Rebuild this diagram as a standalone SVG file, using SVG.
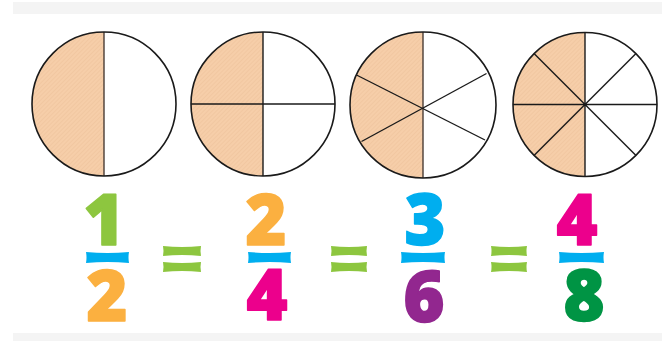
<svg xmlns="http://www.w3.org/2000/svg" width="662" height="341" viewBox="0 0 662 341">
  <style>
    .band { fill: #F4F4F4; }
    .shade { fill: url(#hatch); stroke: none; }
    .rim { fill: none; stroke: #1a1a1a; stroke-width: 1.6; }
    .spoke { stroke: #1a1a1a; stroke-width: 1.4; fill: none; }
    .mid { stroke: #4a3d35; stroke-width: 1.4; fill: none; }
    .num { font-family: "Open Sans", "Liberation Sans", sans-serif; font-weight: 800; font-size: 70px; text-anchor: middle; stroke-width: 1.6; stroke-linejoin: round; }
    .bar { fill: #00AEEF; }
    .eq { fill: #8DC63F; }
  </style>
  <defs>
    <pattern id="hatch" patternUnits="userSpaceOnUse" width="3" height="3" patternTransform="rotate(45)">
      <rect width="3" height="3" fill="#F6CEA9"/>
      <line x1="0" y1="0" x2="0" y2="3" stroke="#EDC19A" stroke-width="1"/>
    </pattern>
  </defs>
  <rect width="662" height="341" fill="#ffffff"/>
  <rect class="band" x="13" y="2" width="649" height="12"/>
  <rect class="band" x="13" y="333" width="649" height="8"/>

  <g id="pie-half">
    <path class="shade" d="M104 32 A72 72 0 0 0 104 176 Z"/>
    <line class="mid" x1="104" y1="32" x2="104" y2="176"/>
    <circle class="rim" cx="104" cy="104" r="72"/>
  </g>

  <g id="pie-quarters">
    <path class="shade" d="M263 32 A72 72 0 0 0 263 176 Z"/>
    <line class="spoke" x1="263" y1="32" x2="263" y2="176"/>
    <line class="spoke" x1="191" y1="104" x2="335" y2="104"/>
    <circle class="rim" cx="263" cy="104" r="72"/>
  </g>

  <g id="pie-sixths">
    <path class="shade" d="M423 32 A73 73 0 0 0 423 178 Z"/>
    <line class="mid" x1="423" y1="32" x2="423" y2="178"/>
    <line class="spoke" x1="356.5" y1="75" x2="485" y2="140"/>
    <line class="spoke" x1="361.5" y1="141.5" x2="486.5" y2="73.5"/>
    <circle class="rim" cx="423" cy="105" r="73"/>
  </g>

  <g id="pie-eighths">
    <path class="shade" d="M585 32.5 A72 72 0 0 0 585 176.5 Z"/>
    <line class="spoke" x1="585" y1="32.5" x2="585" y2="176.5"/>
    <line class="spoke" x1="513" y1="104.5" x2="657" y2="104.5"/>
    <line class="spoke" x1="534" y1="53.5" x2="636" y2="155.5"/>
    <line class="spoke" x1="534" y1="155.5" x2="636" y2="53.5"/>
    <circle cx="585" cy="104.5" r="1.8" fill="#1a1a1a"/>
    <circle class="rim" cx="585" cy="104.5" r="72"/>
  </g>

  <g id="fraction-1-2">
    <text class="num" x="104" y="245" fill="#8DC63F" stroke="#8DC63F">1</text>
    <path class="bar" d="M86 252 Q107.5 254 129 252 Q128 257.5 129 263 Q107.5 261 86 263 Q87 257.5 86 252 Z"/>
    <text class="num" x="107" y="321" fill="#FBB040" stroke="#FBB040">2</text>
  </g>

  <g id="equals-1">
    <path class="eq" d="M163 246 Q182 248 201 246 Q200 251 201 256 Q182 254 163 256 Q164 251 163 246 Z"/>
    <path class="eq" d="M163 262 Q182 264 201 262 Q200 267 201 272 Q182 270 163 272 Q164 267 163 262 Z"/>
  </g>

  <g id="fraction-2-4">
    <text class="num" x="266" y="245" fill="#FBB040" stroke="#FBB040">2</text>
    <path class="bar" d="M248 252 Q269.5 254 291 252 Q290 257.5 291 263 Q269.5 261 248 263 Q249 257.5 248 252 Z"/>
    <text class="num" x="267" y="320" fill="#EC008C" stroke="#EC008C">4</text>
  </g>

  <g id="equals-2">
    <path class="eq" d="M331 246 Q349 248 367 246 Q366 251 367 256 Q349 254 331 256 Q332 251 331 246 Z"/>
    <path class="eq" d="M331 262 Q349 264 367 262 Q366 267 367 272 Q349 270 331 272 Q332 267 331 262 Z"/>
  </g>

  <g id="fraction-3-6">
    <text class="num" x="425" y="245" fill="#00AEEF" stroke="#00AEEF">3</text>
    <path class="bar" d="M401 252 Q423 254 445 252 Q444 257.5 445 263 Q423 261 401 263 Q402 257.5 401 252 Z"/>
    <text class="num" x="424" y="322" fill="#92278F" stroke="#92278F">6</text>
  </g>

  <g id="equals-3">
    <path class="eq" d="M491 246 Q509 248 527 246 Q526 251 527 256 Q509 254 491 256 Q492 251 491 246 Z"/>
    <path class="eq" d="M491 262 Q509 264 527 262 Q526 267 527 272 Q509 270 491 272 Q492 267 491 262 Z"/>
  </g>

  <g id="fraction-4-8">
    <text class="num" x="577" y="245" fill="#EC008C" stroke="#EC008C">4</text>
    <path class="bar" d="M559 252 Q581.5 254 604 252 Q603 257.5 604 263 Q581.5 261 559 263 Q560 257.5 559 252 Z"/>
    <text class="num" x="584" y="321" fill="#009444" stroke="#009444">8</text>
  </g>
</svg>
